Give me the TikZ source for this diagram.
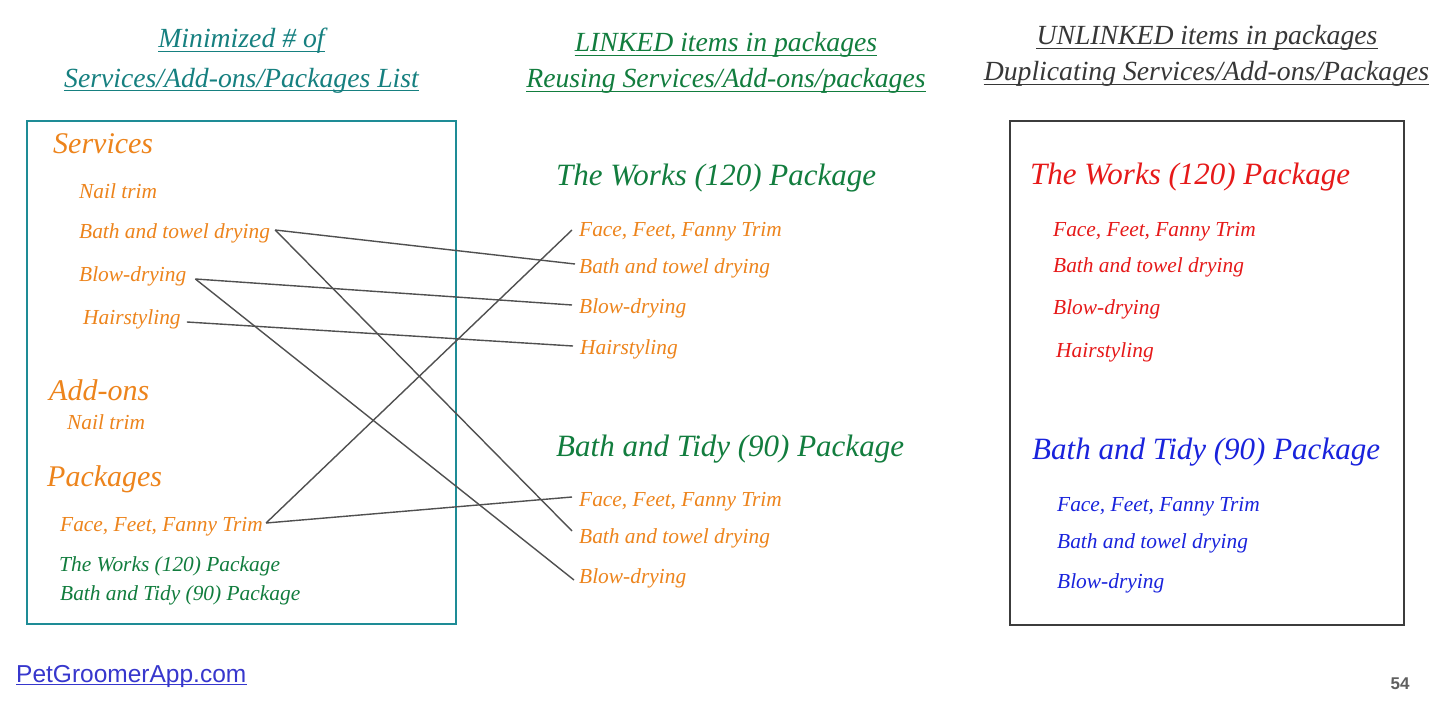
\documentclass[tikz,border=0pt]{standalone}
\usepackage{fontspec}
\setmainfont{Liberation Serif}
\newfontfamily\linkfont{Liberation Sans}
\definecolor{orng}{RGB}{237,132,28}
\definecolor{grn}{RGB}{18,125,62}
\definecolor{tealh}{RGB}{22,128,128}
\definecolor{tealbox}{RGB}{30,140,150}
\definecolor{grayh}{RGB}{55,55,55}
\definecolor{redt}{RGB}{230,25,25}
\definecolor{bluet}{RGB}{25,35,220}
\definecolor{linkblue}{RGB}{55,55,205}
\definecolor{pagegray}{RGB}{95,95,95}
\definecolor{conngray}{RGB}{80,80,80}
\definecolor{boxgray}{RGB}{60,60,60}
\newcommand\myfs[1]{\fontsize{#1}{#1}\selectfont}
\begin{document}
\begin{tikzpicture}[x=1pt,y=-1pt,
  txt/.style={anchor=base west, inner sep=0pt, font=\itshape\myfs{21.4}},
  big/.style={anchor=base west, inner sep=0pt, font=\itshape\myfs{31}},
  sect/.style={anchor=base west, inner sep=0pt, font=\itshape\myfs{30}},
  head/.style={anchor=base, inner sep=0pt, font=\itshape\myfs{27.7}},
  uline/.style={line width=1.3pt},
  conn/.style={draw=conngray, line width=1.4pt},
  frame/.style={line width=2.8pt}]
\useasboundingbox[fill=white] (0,0) rectangle (1456,709);

% headers
\node[head, text=tealh] (h1a) at (241.5,48) {Minimized \# of};
\node[head, text=tealh] (h1b) at (241.5,87) {Services/Add-ons/Packages List};
\node[head, text=grn] (h2a) at (726,52) {LINKED items in packages};
\node[head, text=grn] (h2b) at (726,88) {Reusing Services/Add-ons/packages};
\node[head, text=grayh] (h3a) at (1207,45) {UNLINKED items in packages};
\node[head, text=grayh] (h3b) at (1206.5,81) {Duplicating Services/Add-ons/Packages};
\foreach \n/\c in {h1a/tealh,h1b/tealh,h2a/grn,h2b/grn,h3a/grayh,h3b/grayh}
  \draw[uline, \c] ([shift={(0,3.5)}]\n.base west) -- ([shift={(0,3.5)}]\n.base east);

% left box
\draw[frame, tealbox] (27,121) rectangle (456,624);
\node[sect, text=orng] (services) at (53,153) {Services};
\node[txt, text=orng] (lnail) at (79,198) {Nail trim};
\node[txt, text=orng] (lbath) at (79,238) {Bath and towel drying};
\node[txt, text=orng] (lblow) at (79,281) {Blow-drying};
\node[txt, text=orng] (lhair) at (83,324) {Hairstyling};
\node[sect, text=orng] (addons) at (49,400) {Add-ons};
\node[txt, text=orng] (lnail2) at (67,429) {Nail trim};
\node[sect, text=orng] (packages) at (47,486) {Packages};
\node[txt, text=orng] (lface) at (60,531) {Face, Feet, Fanny Trim};
\node[txt, text=grn] (lworks) at (59,571) {The Works (120) Package};
\node[txt, text=grn] (ltidy) at (60,600) {Bath and Tidy (90) Package};

% middle column
\node[big, text=grn] (mworks) at (556,185) {The Works (120) Package};
\node[txt, text=orng] (wface) at (579,236) {Face, Feet, Fanny Trim};
\node[txt, text=orng] (wbath) at (579,273) {Bath and towel drying};
\node[txt, text=orng] (wblow) at (579,313) {Blow-drying};
\node[txt, text=orng] (whair) at (580,354) {Hairstyling};
\node[big, text=grn] (mtidy) at (556,456) {Bath and Tidy (90) Package};
\node[txt, text=orng] (tface) at (579,506) {Face, Feet, Fanny Trim};
\node[txt, text=orng] (tbath) at (579,543) {Bath and towel drying};
\node[txt, text=orng] (tblow) at (579,583) {Blow-drying};

% right box
\draw[frame, boxgray] (1010,121) rectangle (1404,625);
\node[big, text=redt] (rworks) at (1030,184) {The Works (120) Package};
\node[txt, text=redt] (rwface) at (1053,236) {Face, Feet, Fanny Trim};
\node[txt, text=redt] (rwbath) at (1053,272) {Bath and towel drying};
\node[txt, text=redt] (rwblow) at (1053,314) {Blow-drying};
\node[txt, text=redt] (rwhair) at (1056,357) {Hairstyling};
\node[big, text=bluet] (rtidy) at (1032,459) {Bath and Tidy (90) Package};
\node[txt, text=bluet] (rtface) at (1057,511) {Face, Feet, Fanny Trim};
\node[txt, text=bluet] (rtbath) at (1057,548) {Bath and towel drying};
\node[txt, text=bluet] (rtblow) at (1057,588) {Blow-drying};

% connectors
\draw[conn] ([shift={(5,-8)}]lbath.base east) -- ([shift={(-4,-9)}]wbath.base west);
\draw[conn] ([shift={(5,-8)}]lbath.base east) -- ([shift={(-7,-12)}]tbath.base west);
\draw[conn] ([shift={(9,-2)}]lblow.base east) -- ([shift={(-7,-8)}]wblow.base west);
\draw[conn] ([shift={(9,-2)}]lblow.base east) -- ([shift={(-5,-3)}]tblow.base west);
\draw[conn] ([shift={(6,-2)}]lhair.base east) -- ([shift={(-7,-8)}]whair.base west);
\draw[conn] ([shift={(3,-8)}]lface.base east) -- ([shift={(-7,-6)}]wface.base west);
\draw[conn] ([shift={(3,-8)}]lface.base east) -- ([shift={(-7,-9)}]tface.base west);

% footer
\node[anchor=base west, inner sep=0pt, text=linkblue, font=\linkfont\myfs{24.5}] (site) at (16,682) {PetGroomerApp.com};
\draw[linkblue, line width=1.3pt] ([shift={(0,2.5)}]site.base west) -- ([shift={(0,2.5)}]site.base east);
\node[anchor=base, inner sep=0pt, text=pagegray, font=\linkfont\bfseries\myfs{17}] (page) at (1400,689) {54};
\end{tikzpicture}
\end{document}
